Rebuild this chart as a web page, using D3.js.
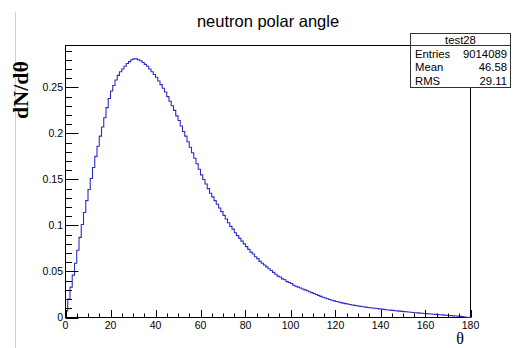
<!DOCTYPE html>
<html>
<head>
<meta charset="utf-8">
<script src="https://cdn.jsdelivr.net/npm/d3@7"></script>
<style>
  body { margin: 0; background: #fff; }
  svg { display: block; }
</style>
</head>
<body>
<div id="chart"></div>
<script>
// histogram of neutron polar angle, 180 bins of 1 degree
var binEdges = [0, 180];
var counts = [
  0.007, 0.020, 0.033, 0.046, 0.059, 0.073, 0.087, 0.101, 0.114, 0.127,
  0.139, 0.151, 0.163, 0.175, 0.186, 0.197, 0.207, 0.217, 0.228, 0.238,
  0.246, 0.252, 0.258, 0.263, 0.267, 0.270, 0.273, 0.276, 0.278, 0.280,
  0.281, 0.281, 0.280, 0.279, 0.277, 0.275, 0.273, 0.270, 0.267, 0.264,
  0.261, 0.257, 0.253, 0.249, 0.245, 0.240, 0.235, 0.230, 0.225, 0.219,
  0.214, 0.208, 0.202, 0.197, 0.191, 0.185, 0.179, 0.173, 0.167, 0.161,
  0.155, 0.150, 0.145, 0.140, 0.135, 0.131, 0.127, 0.123, 0.119, 0.115,
  0.111, 0.107, 0.103, 0.099, 0.096, 0.092, 0.089, 0.086, 0.083, 0.080,
  0.077, 0.074, 0.071, 0.069, 0.066, 0.064, 0.061, 0.059, 0.057, 0.055,
  0.053, 0.051, 0.049, 0.047, 0.045, 0.044, 0.042, 0.041, 0.039, 0.038,
  0.037, 0.035, 0.034, 0.033, 0.032, 0.031, 0.030, 0.029, 0.028, 0.027,
  0.026, 0.025, 0.024, 0.023, 0.022, 0.0212, 0.0204, 0.0196, 0.0188, 0.0181,
  0.0174, 0.0168, 0.0162, 0.0156, 0.0151, 0.0146, 0.0141, 0.0136, 0.0132, 0.0128,
  0.0124, 0.0120, 0.0116, 0.0113, 0.0109, 0.0106, 0.0103, 0.0100, 0.0097, 0.0094,
  0.0091, 0.0088, 0.0085, 0.0082, 0.0080, 0.0077, 0.0074, 0.0072, 0.0069, 0.0067,
  0.0064, 0.0062, 0.0059, 0.0057, 0.0055, 0.0052, 0.0050, 0.0048, 0.0046, 0.0044,
  0.0042, 0.0040, 0.0038, 0.0036, 0.0034, 0.0032, 0.0030, 0.0028, 0.0026, 0.0024,
  0.0022, 0.0020, 0.0018, 0.0016, 0.0014, 0.0012, 0.0009, 0.0006, 0.0003, 0.0001
];
var xMajorTicks = [0, 20, 40, 60, 80, 100, 120, 140, 160, 180];
var yMajorTicks = [0, 0.05, 0.1, 0.15, 0.2, 0.25];
var yTickLabels = ["0", "0.05", "0.1", "0.15", "0.2", "0.25"];
var statsTitle = "test28";
var statsNames = ["Entries", "Mean", "RMS"];
var statsValues = ["9014089", "46.58", "29.11"];

var width = 516, height = 348;
var frameLeft = 65.5, frameRight = 470.5, frameTop = 45.5, frameBottom = 317.5;

var svg = d3.select("#chart").append("svg")
    .attr("width", width)
    .attr("height", height);

// light separator line on the left edge of the canvas
svg.append("line")
    .attr("x1", 15.5).attr("x2", 15.5)
    .attr("y1", 12).attr("y2", height)
    .attr("stroke", "#d0d0d0")
    .attr("stroke-width", 1);

var x = d3.scaleLinear().domain(binEdges).range([frameLeft, frameRight]);
var y = d3.scaleLinear().domain([0, 0.2955]).range([frameBottom, frameTop]);

// frame
svg.append("rect")
    .attr("x", frameLeft).attr("y", frameTop)
    .attr("width", frameRight - frameLeft).attr("height", frameBottom - frameTop)
    .attr("fill", "none")
    .attr("stroke", "#000")
    .attr("stroke-width", 1);

// histogram outline
var pts = counts.map(function(v, i){ return [i, v]; });
pts.push([counts.length, counts[counts.length - 1]]);

var line = d3.line()
    .x(function(d){ return x(d[0]); })
    .y(function(d){ return y(d[1]); })
    .curve(d3.curveStepAfter);

svg.append("path")
    .datum(pts)
    .attr("d", line)
    .attr("fill", "none")
    .attr("stroke", "#2c2cc8")
    .attr("stroke-width", 1.1);

// x axis ticks (pointing up into the frame)
var xMinor = d3.range(0, 181, 5);
svg.append("g").selectAll("line")
    .data(xMinor)
    .enter().append("line")
    .attr("x1", function(d){ return Math.round(x(d)) + 0.5; })
    .attr("x2", function(d){ return Math.round(x(d)) + 0.5; })
    .attr("y1", frameBottom)
    .attr("y2", function(d){ return d % 20 === 0 ? frameBottom - 7.5 : frameBottom - 4; })
    .attr("stroke", "#000");

svg.append("g").selectAll("text")
    .data(xMajorTicks)
    .enter().append("text")
    .attr("x", function(d){ return x(d); })
    .attr("y", frameBottom + 11.5)
    .attr("text-anchor", "middle")
    .attr("font-family", "Liberation Sans, Arial, sans-serif")
    .attr("font-size", "10.5px")
    .attr("fill", "#000")
    .text(function(d){ return d; });

// y axis ticks (pointing right into the frame)
var yMinor = d3.range(0, 30).map(function(i){ return i / 100; });
svg.append("g").selectAll("line")
    .data(yMinor)
    .enter().append("line")
    .attr("y1", function(d){ return Math.round(y(d)) + 0.5; })
    .attr("y2", function(d){ return Math.round(y(d)) + 0.5; })
    .attr("x1", frameLeft)
    .attr("x2", function(d, i){ return i % 5 === 0 ? frameLeft + 13 : frameLeft + 6.5; })
    .attr("stroke", "#000");

svg.append("g").selectAll("text")
    .data(yMajorTicks)
    .enter().append("text")
    .attr("x", frameLeft - 2.5)
    .attr("y", function(d){ return y(d) + 3.8; })
    .attr("text-anchor", "end")
    .attr("font-family", "Liberation Sans, Arial, sans-serif")
    .attr("font-size", "10.5px")
    .attr("fill", "#000")
    .text(function(d, i){ return yTickLabels[i]; });

// titles
svg.append("text")
    .attr("x", 268)
    .attr("y", 27)
    .attr("text-anchor", "middle")
    .attr("font-family", "Liberation Sans, Arial, sans-serif")
    .attr("font-size", "16.5px")
    .text("neutron polar angle");

svg.append("text")
    .attr("transform", "translate(28,90) rotate(-90)")
    .attr("text-anchor", "middle")
    .attr("font-family", "Liberation Serif, Times New Roman, serif")
    .attr("font-weight", "bold")
    .attr("font-size", "22px")
    .text("dN/dθ");

svg.append("text")
    .attr("x", 460)
    .attr("y", 344)
    .attr("text-anchor", "middle")
    .attr("font-family", "Liberation Serif, Times New Roman, serif")
    .attr("font-size", "16px")
    .text("θ");

// stats box
var box = svg.append("g").attr("class", "stats");
box.append("rect")
    .attr("x", 410.5).attr("y", 33.5)
    .attr("width", 100).attr("height", 54)
    .attr("fill", "#fff")
    .attr("stroke", "#333");
box.append("line")
    .attr("x1", 410.5).attr("x2", 510.5)
    .attr("y1", 45.5).attr("y2", 45.5)
    .attr("stroke", "#333");
box.append("text")
    .attr("x", 460.5).attr("y", 43.5)
    .attr("text-anchor", "middle")
    .attr("font-family", "Liberation Sans, Arial, sans-serif")
    .attr("font-size", "11.3px")
    .text(statsTitle);

var rowY = [58, 71, 84.5];
box.selectAll("text.name")
    .data(statsNames)
    .enter().append("text")
    .attr("class", "name")
    .attr("x", 415)
    .attr("y", function(d, i){ return rowY[i]; })
    .attr("font-family", "Liberation Sans, Arial, sans-serif")
    .attr("font-size", "11.3px")
    .text(function(d){ return d; });
box.selectAll("text.val")
    .data(statsValues)
    .enter().append("text")
    .attr("class", "val")
    .attr("x", 507)
    .attr("y", function(d, i){ return rowY[i]; })
    .attr("text-anchor", "end")
    .attr("font-family", "Liberation Sans, Arial, sans-serif")
    .attr("font-size", "11.3px")
    .text(function(d){ return d; });
</script>
</body>
</html>
